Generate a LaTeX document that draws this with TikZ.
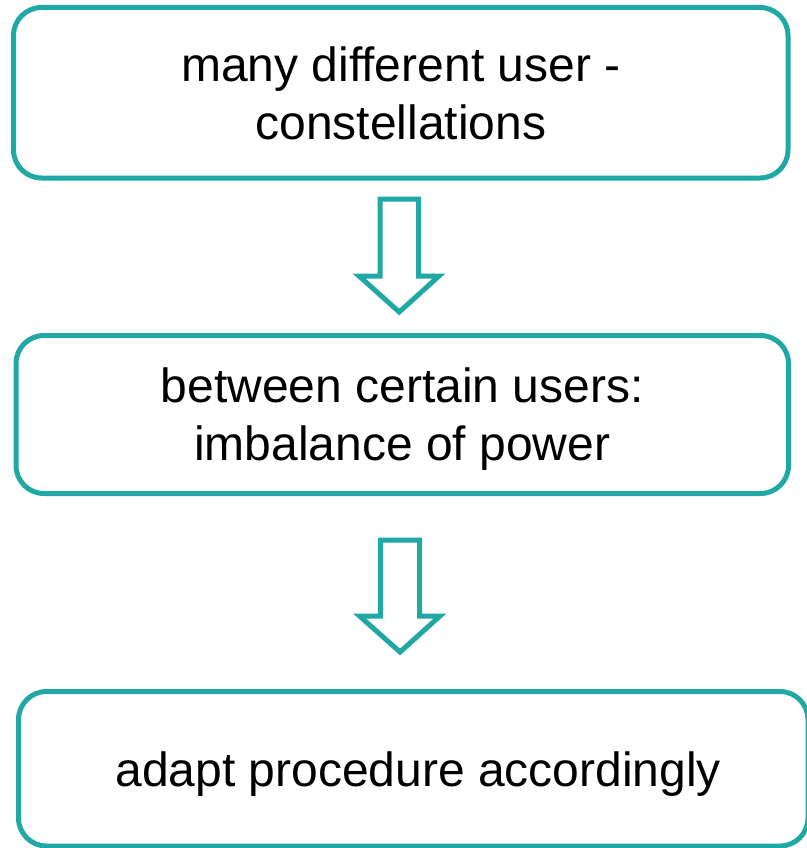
\documentclass[tikz,border=0pt]{standalone}
\usepackage{fontspec}
\setmainfont{Liberation Sans}
\definecolor{tealline}{RGB}{32,168,164}
\begin{document}
\begin{tikzpicture}[x=1pt,y=-1pt,
  box/.style={draw=tealline,line width=5pt,rounded corners=28pt,align=center,
    font=\fontsize{48}{58}\selectfont,inner sep=0pt,text depth=0pt},
  blockarrow/.style={draw=tealline,line width=5pt,line join=miter,fill=white}]
\useasboundingbox (0,0) rectangle (806,848);
\node[box,minimum width=774.5pt,minimum height=170.5pt] (b1) at (400.75,92.75)
  {many different user -\\constellations};
\node[box,minimum width=772.5pt,minimum height=158pt] (b2) at (402.25,414.5)
  {between certain users:\\imbalance of power};
\node[box,minimum width=789.5pt,minimum height=154.5pt] (b3) at (413.25,768.75)
  {\hspace*{10pt}adapt procedure accordingly};
\draw[blockarrow] (380,199) -- (418.5,199) -- (418.5,276) -- (439,276) -- (399.25,312)
  -- (359,276) -- (380,276) -- cycle;
\draw[blockarrow] (380.5,540) -- (419.5,540) -- (419.5,616) -- (440,616) -- (400,652)
  -- (359.5,616) -- (380.5,616) -- cycle;
\end{tikzpicture}
\end{document}
